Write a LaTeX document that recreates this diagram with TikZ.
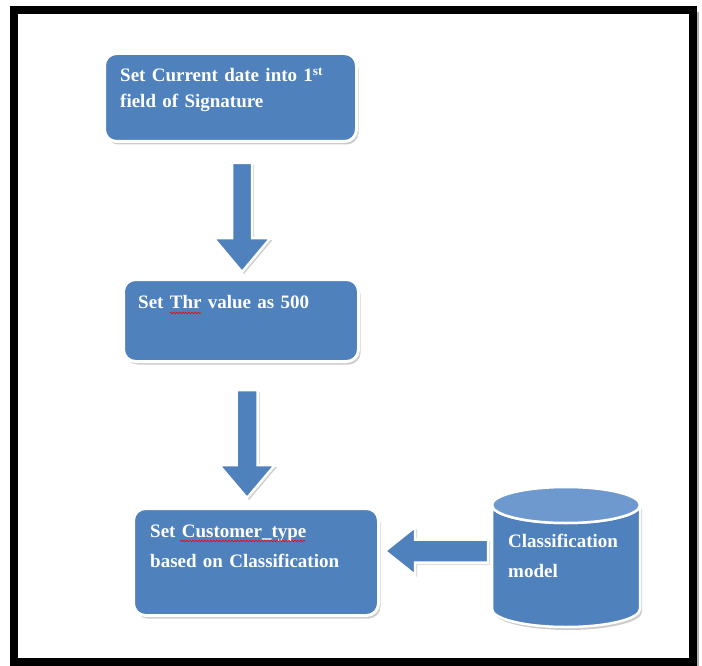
\documentclass[tikz,border=0pt]{standalone}
\usepackage{fontspec}
\setmainfont{Liberation Serif}
\usetikzlibrary{shadows,decorations.pathmorphing,positioning}

\definecolor{boxblue}{RGB}{79,129,189}
\definecolor{topblue}{RGB}{110,153,207}

\tikzset{
  stepbox/.style={rectangle, rounded corners=12pt, fill=boxblue, draw=white, line width=3pt,
    drop shadow={shadow xshift=2pt, shadow yshift=-3pt, fill=black!40, opacity=.5}},
  boxtext/.style={text=white, font=\bfseries\fontsize{19}{#1}\selectfont, text width=240pt,
    align=left, inner sep=0pt, anchor=base west},
  boxtext/.default=30,
  blockarrow/.style={fill=boxblue, draw=white, line width=2.5pt, line join=miter,
    drop shadow={shadow xshift=2pt, shadow yshift=-2pt, fill=black!40, opacity=.5}},
  spell/.style={red, line width=.6pt, decorate, decoration={snake, amplitude=.8pt, segment length=3pt}}
}

\begin{document}
\begin{tikzpicture}[x=1pt, y=-1pt]
\useasboundingbox (0,0) rectangle (702,666);

% frame
\draw[black!30, line width=2pt] (698,12) -- (698,666);
\draw[line width=8pt] (14,10) rectangle (693,662);

% the three steps
\node[stepbox, minimum width=252pt, minimum height=88pt] (box1) at (230.5,97.5) {};
\node[stepbox, minimum width=235pt, minimum height=82pt] (box2) at (241,320.5) {};
\node[stepbox, minimum width=245pt, minimum height=107pt] (box3) at (256,562) {};

\node[boxtext=26] (box1txt) at (120,82) {Set Current date into 1\textsuperscript{st}\\field of Signature};
\node[boxtext] (box2txt) at (138,308) {Set Thr value as 500};
\node[boxtext] (box3txt) at (150,537) {Set Customer\_type\\based on Classification};

\draw[spell] (170,313) -- (201,313);
\draw[spell] (180,541) -- (305,541);

% classification model (cylinder)
\coordinate (model) at (566,557);
\begin{scope}[draw=white, line width=2.5pt]
\filldraw[fill=boxblue, drop shadow={shadow xshift=2pt, shadow yshift=-3pt, fill=black!40, opacity=.5}]
  (492,505) -- (492,609) arc[start angle=180, end angle=0, x radius=74, y radius=18]
  -- (640,505) arc[start angle=0, end angle=180, x radius=74, y radius=18] -- cycle;
\filldraw[fill=topblue] (566,505) ellipse [x radius=74, y radius=18];
\end{scope}
\node[boxtext] (modeltxt) at (508,547) {Classification\\model};

% block arrows
\coordinate (a1) at (242,163);
\coordinate (a2) at (247,390);
\coordinate (a3) at (488,551);

\draw[blockarrow] (a1) ++(-10,0) -- ++(20,0) -- ++(0,75) -- ++(18.5,0)
  -- ++(-28.5,34) -- ++(-28.5,-34) -- ++(18.5,0) -- cycle;
\draw[blockarrow] (a2) ++(-10.5,0) -- ++(21,0) -- ++(0,75) -- ++(17.5,0)
  -- ++(-28,33) -- ++(-28,-33) -- ++(17.5,0) -- cycle;
\draw[blockarrow] (a3) ++(0,-11.5) -- ++(0,23) -- ++(-73,0) -- ++(0,12.5)
  -- ++(-30,-24) -- ++(30,-24) -- ++(0,12.5) -- cycle;
\end{tikzpicture}
\end{document}
